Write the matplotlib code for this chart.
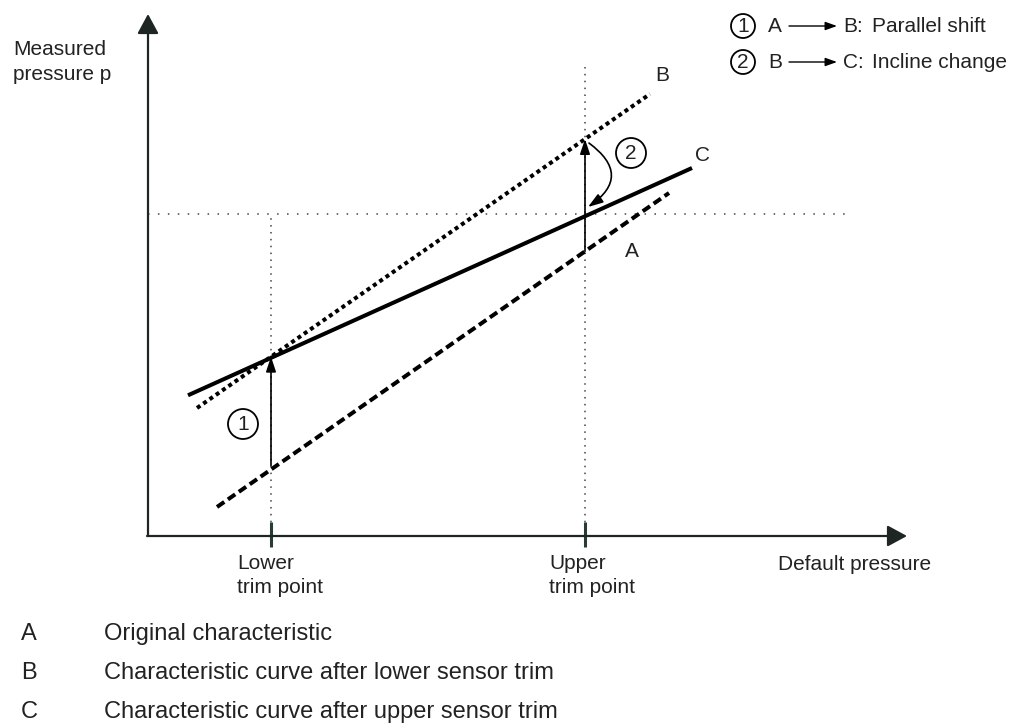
import numpy as np
import matplotlib
matplotlib.use("Agg")
import matplotlib.pyplot as plt
from matplotlib.patches import Circle

# units are "pixels" measured from the axis origin
lineAx = [69, 521]
lineAy = [29, 343]
lineBx = [49, 502]
lineBy = [128, 442]
lineCx = [40, 544]
lineCy = [368 - 0.451 * 504, 368]
trimX = [123, 437]
trimLabels = [["Lower", "trim point"], ["Upper", "trim point"]]
trimTargetY = 322
curveLabels = ["A", "B", "C"]
curveLabelPos = [(477, 279), (507, 455), (547, 375)]
legendKeys = ["A", "B", "C"]
legendTexts = ["Original characteristic",
               "Characteristic curve after lower sensor trim",
               "Characteristic curve after upper sensor trim"]
stepNums = ["1", "2"]
stepFrom = ["A", "B"]
stepTo = ["B:", "C:"]
stepTexts = ["Parallel shift", "Incline change"]

textColor = "#222222"
fontSize = 15
legendFontSize = 17
plt.rcParams["font.family"] = ["Liberation Sans", "DejaVu Sans"]


def arrow(ax, start, end, hl, hw, lw=1.2, color="black", conn="arc3"):
    ax.annotate("", xy=end, xytext=start,
                arrowprops=dict(arrowstyle="-|>,head_length=%s,head_width=%s" % (hl, hw),
                                mutation_scale=10, lw=lw, color=color,
                                shrinkA=0, shrinkB=0, connectionstyle=conn))


def circled(ax, xy, r, num):
    ax.add_patch(Circle(xy, r, fill=False, lw=1.3, ec="black"))
    ax.text(xy[0], xy[1] - 0.5, num, ha="center", va="center", fontsize=fontSize, color=textColor)


def main():
    fig = plt.figure(figsize=(10.18, 7.23), dpi=100)
    ax = fig.add_axes([0, 0, 1, 1])
    ax.set_xlim(-148, 870)
    ax.set_ylim(-187, 536)
    ax.axis("off")

    # guides
    ax.plot([0, 700], [trimTargetY, trimTargetY], color="#444444", lw=1.1, dashes=(1, 5.5))
    ax.plot([trimX[0], trimX[0]], [0, trimTargetY], color="#444444", lw=1.1, dashes=(1, 3.5))
    ax.plot([trimX[1], trimX[1]], [0, 469], color="#444444", lw=1.1, dashes=(1, 3.5))

    # characteristic curves
    ax.plot(lineAx, lineAy, color="black", lw=2.9, dashes=(2.2, 1.1))
    ax.plot(lineBx, lineBy, color="black", lw=2.9, dashes=(1.0, 0.9))
    ax.plot(lineCx, lineCy, color="black", lw=2.9, solid_capstyle="butt")

    # axes
    arrow(ax, (0, 0), (0, 522), 1.2, 0.65, lw=1.6, color="#1e2624")
    arrow(ax, (-1, 0), (759, 0), 1.2, 0.65, lw=1.6, color="#1e2624")
    for x in trimX:
        ax.plot([x, x], [-11, 14], color="#2b3a36", lw=2.2, solid_capstyle="butt")

    # step 1: A -> B at lower trim, step 2 at upper trim
    yA = np.interp(trimX[0], lineAx, lineAy)
    yB = np.interp(trimX[0], lineBx, lineBy)
    arrow(ax, (trimX[0], yA + 4), (trimX[0], yB), 0.9, 0.3)
    yA2 = np.interp(trimX[1], lineAx, lineAy)
    yB2 = np.interp(trimX[1], lineBx, lineBy)
    arrow(ax, (trimX[1], yA2), (trimX[1], yB2), 0.9, 0.3)
    arrow(ax, (trimX[1] + 4, yB2 - 4), (trimX[1] + 3, trimTargetY + 7), 0.9, 0.3,
          conn="arc3,rad=-0.7")
    circled(ax, (95, 112), 15, stepNums[0])
    circled(ax, (483, 383), 15, stepNums[1])

    for lab, pos in zip(curveLabels, curveLabelPos):
        ax.text(pos[0], pos[1], lab, fontsize=fontSize, color=textColor, va="baseline")

    # axis titles
    ax.text(-135, 481, "Measured", fontsize=fontSize, color=textColor, va="baseline")
    ax.text(-135, 456, "pressure p", fontsize=fontSize, color=textColor, va="baseline")
    ax.text(630, -34, "Default pressure", fontsize=fontSize, color=textColor, va="baseline")
    for x, lines, left in zip(trimX, trimLabels, [89, 401]):
        ax.text(left, -33, lines[0], fontsize=fontSize, color=textColor, va="baseline")
        ax.text(left, -57, lines[1], fontsize=fontSize, color=textColor, va="baseline")

    # top right key
    for i in range(2):
        yy = 510 - 36 * i
        circled(ax, (595, yy), 12, stepNums[i])
        ax.text(620, yy - 6, stepFrom[i], fontsize=fontSize, color=textColor, va="baseline")
        arrow(ax, (641, yy), (689, yy), 0.7, 0.25, lw=1.0)
        ax.text(695, yy - 6, stepTo[i], fontsize=fontSize, color=textColor, va="baseline")
        ax.text(724, yy - 6, stepTexts[i], fontsize=fontSize, color=textColor, va="baseline")

    # bottom key
    for i in range(3):
        yy = -104 - 39 * i
        ax.text(-127, yy, legendKeys[i], fontsize=legendFontSize, color=textColor, va="baseline")
        ax.text(-44, yy, legendTexts[i], fontsize=legendFontSize, color=textColor, va="baseline")

    fig.savefig("out.png", dpi=100)


if __name__ == "__main__":
    main()
